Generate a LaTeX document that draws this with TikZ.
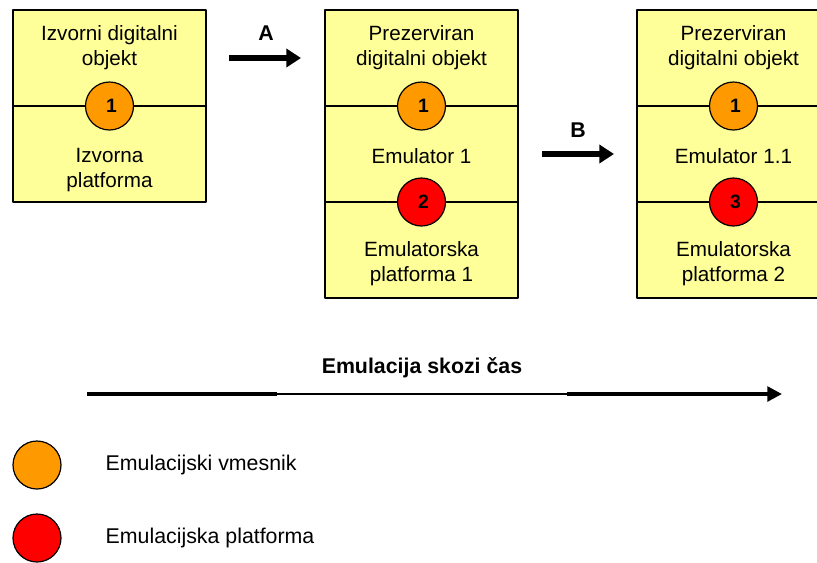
\documentclass[tikz,border=0pt]{standalone}
\usepackage{fontspec}
\setmainfont{Liberation Sans}
\usetikzlibrary{arrows.meta}
\definecolor{boxyellow}{HTML}{FFFF99}
\definecolor{emuorange}{HTML}{FF9900}
\definecolor{emured}{HTML}{FF0000}
\newcommand\emunum[1]{\kern3pt\raisebox{-2.2pt}{#1}}
\tikzset{
    layerbox/.style={draw, fill=boxyellow, line width=1.2pt},
    divider/.style={line width=1.2pt},
    layertext/.style={align=center, font=\fontsize{15.5}{18.75}\selectfont},
    emucirc/.style={circle, draw, line width=0.9pt, minimum size=36pt, inner sep=0pt,
        font=\bfseries\fontsize{14.5}{14.5}\selectfont},
    vmesnik/.style={emucirc, fill=emuorange},
    platf/.style={emucirc, fill=emured},
    fatarrow/.style={line width=4.6pt, -{Triangle[length=11pt,width=13.5pt]}},
    steplabel/.style={font=\bfseries\fontsize{16}{16}\selectfont},
    legtext/.style={anchor=west, font=\fontsize{16}{16}\selectfont}
}
\begin{document}
\begin{tikzpicture}[x=0.75pt, y=-0.75pt, line join=round]
    \useasboundingbox (0,0) rectangle (817,562);
    % izvorni objekt
    \draw[layerbox] (13,10) rectangle (206,202);
    \draw[divider] (13,106) -- (206,106);
    \node[layertext] (obj1) at (109.5,47.5) {Izvorni digitalni\\objekt};
    \node[layertext] (plat1) at (109.5,170) {Izvorna\\platforma};
    \node[vmesnik] (v1) at (109.5,106) {\emunum{1}};
    % emulator 1
    \draw[layerbox] (325,10) rectangle (518,298);
    \draw[divider] (325,106) -- (518,106);
    \draw[divider] (325,202) -- (518,202);
    \node[layertext] (obj2) at (421.5,47.5) {Prezerviran\\digitalni objekt};
    \node[layertext] (emu2) at (421.5,156) {Emulator 1};
    \node[layertext] (plat2) at (421.5,264) {Emulatorska\\platforma 1};
    \node[vmesnik] (v2) at (421.5,106) {\emunum{1}};
    \node[platf] (p2) at (421.5,202) {\emunum{2}};
    % emulator 1.1 (odrezan desno)
    \draw[layerbox] (637,10) rectangle (830,298);
    \draw[divider] (637,106) -- (830,106);
    \draw[divider] (637,202) -- (830,202);
    \node[layertext] (obj3) at (733.5,47.5) {Prezerviran\\digitalni objekt};
    \node[layertext] (emu3) at (733.5,156) {Emulator 1.1};
    \node[layertext] (plat3) at (733.5,264) {Emulatorska\\platforma 2};
    \node[vmesnik] (v3) at (733.5,106) {\emunum{1}};
    \node[platf] (p3) at (733.5,202) {\emunum{3}};
    % prehodi
    \coordinate (aFrom) at (229,58);
    \coordinate (aTo) at (301,58);
    \draw[fatarrow] (aFrom) -- (aTo);
    \node[steplabel] (lblA) at (266,33) {A};
    \coordinate (bFrom) at (542,154);
    \coordinate (bTo) at (614,154);
    \draw[fatarrow] (bFrom) -- (bTo);
    \node[steplabel] (lblB) at (578,130) {B};
    % os casa
    \node[steplabel] (cas) at (422,368) {Emulacija skozi čas};
    \coordinate (t0) at (87,394);
    \coordinate (t1) at (277,394);
    \coordinate (t2) at (567,394);
    \coordinate (t3) at (782,394);
    \draw[line width=2.6pt] (t0) -- (t1);
    \draw[line width=1.4pt] (t1) -- (t2);
    \draw[line width=2.6pt, -{Triangle[length=11pt,width=11pt]}] (t2) -- (t3);
    % legenda
    \node[vmesnik] (legV) at (37,465) {};
    \node[legtext] (legVt) at (101,465) {Emulacijski vmesnik};
    \node[platf] (legP) at (37,538) {};
    \node[legtext] (legPt) at (101,538) {Emulacijska platforma};
\end{tikzpicture}
\end{document}
